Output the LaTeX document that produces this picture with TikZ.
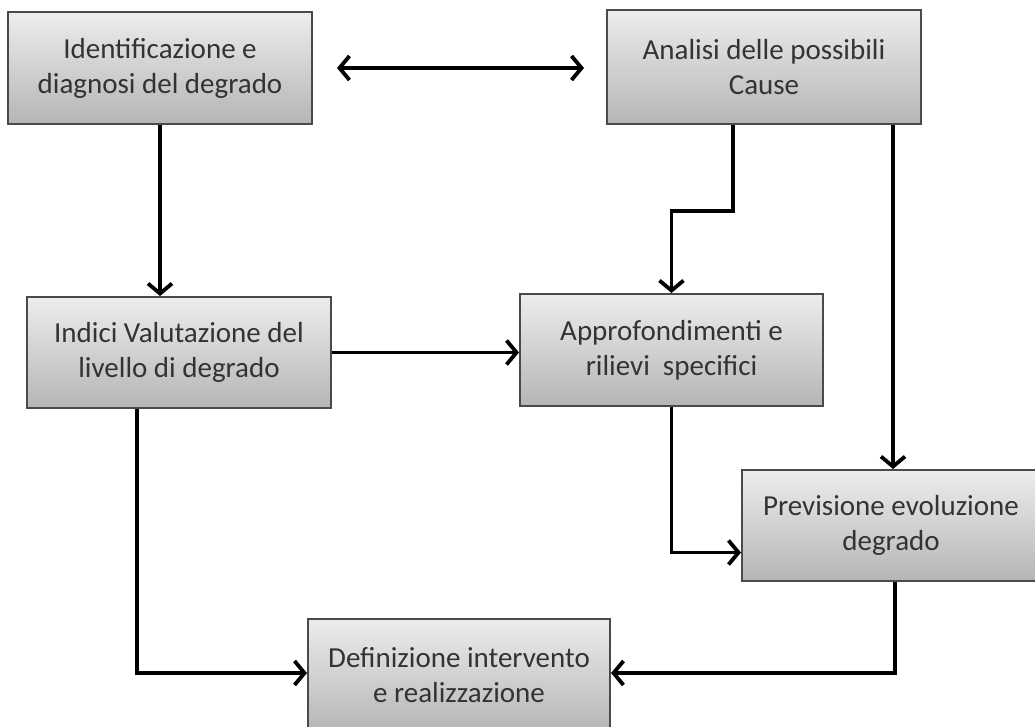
\documentclass[tikz,border=0pt]{standalone}
\usepackage{fontspec}
\setmainfont{Carlito}
\usetikzlibrary{arrows.meta}
\definecolor{boxborder}{HTML}{4A4A4A}
\definecolor{boxtop}{HTML}{EDEDED}
\definecolor{boxbot}{HTML}{B5B5B5}
\tikzset{
  box/.style={draw=boxborder, line width=2pt, top color=boxtop, bottom color=boxbot,
    align=center, font=\fontsize{29}{35}\selectfont, text=black!80, inner sep=0pt},
  arr/.style={line width=3.8pt, -{Straight Barb[length=10pt,width=24pt]}},
  darr/.style={line width=3.8pt, {Straight Barb[length=10pt,width=24pt]}-{Straight Barb[length=10pt,width=24pt]}}
}
\begin{document}
\begin{tikzpicture}[x=1pt,y=-1pt]
\useasboundingbox (0,0) rectangle (1035,727);
\clip (0,0) rectangle (1035,727);
\node[box, minimum width=304pt, minimum height=112pt] (A) at (160,68) {Identificazione e\\diagnosi del degrado};
\node[box, minimum width=314pt, minimum height=114pt] (B) at (764,67) {Analisi delle possibili\\Cause};
\node[box, minimum width=304pt, minimum height=111pt] (C) at (179,352.5) {Indici Valutazione del\\livello di degrado};
\node[box, minimum width=303pt, minimum height=112pt] (D) at (671.5,350) {Approfondimenti e\\rilievi~ specifici};
\node[box, minimum width=298pt, minimum height=111pt] (E) at (891,525.5) {Previsione evoluzione\\degrado};
\node[box, minimum width=302pt, minimum height=112pt] (F) at (459,675) {Definizione intervento\\e realizzazione};
\draw[darr, shorten <=24pt, shorten >=22pt] (A.east) -- (A.east -| B.west);
\draw[arr] (A.south) -- (A.south |- C.north);
\draw[arr] ([xshift=-31pt]B.south) -- ++(0,86) -| (D.north);
\draw[arr] ([xshift=129pt]B.south) -- ([xshift=129pt]B.south |- E.north);
\draw[arr] (C.east) -- (C.east -| D.west);
\draw[arr] (D.south) |- ([yshift=-27pt]E.west);
\draw[arr] ([xshift=-42pt]C.south) |- ([yshift=2pt]F.west);
\draw[arr] ([xshift=4pt]E.south) |- ([yshift=2pt]F.east);
\end{tikzpicture}
\end{document}
